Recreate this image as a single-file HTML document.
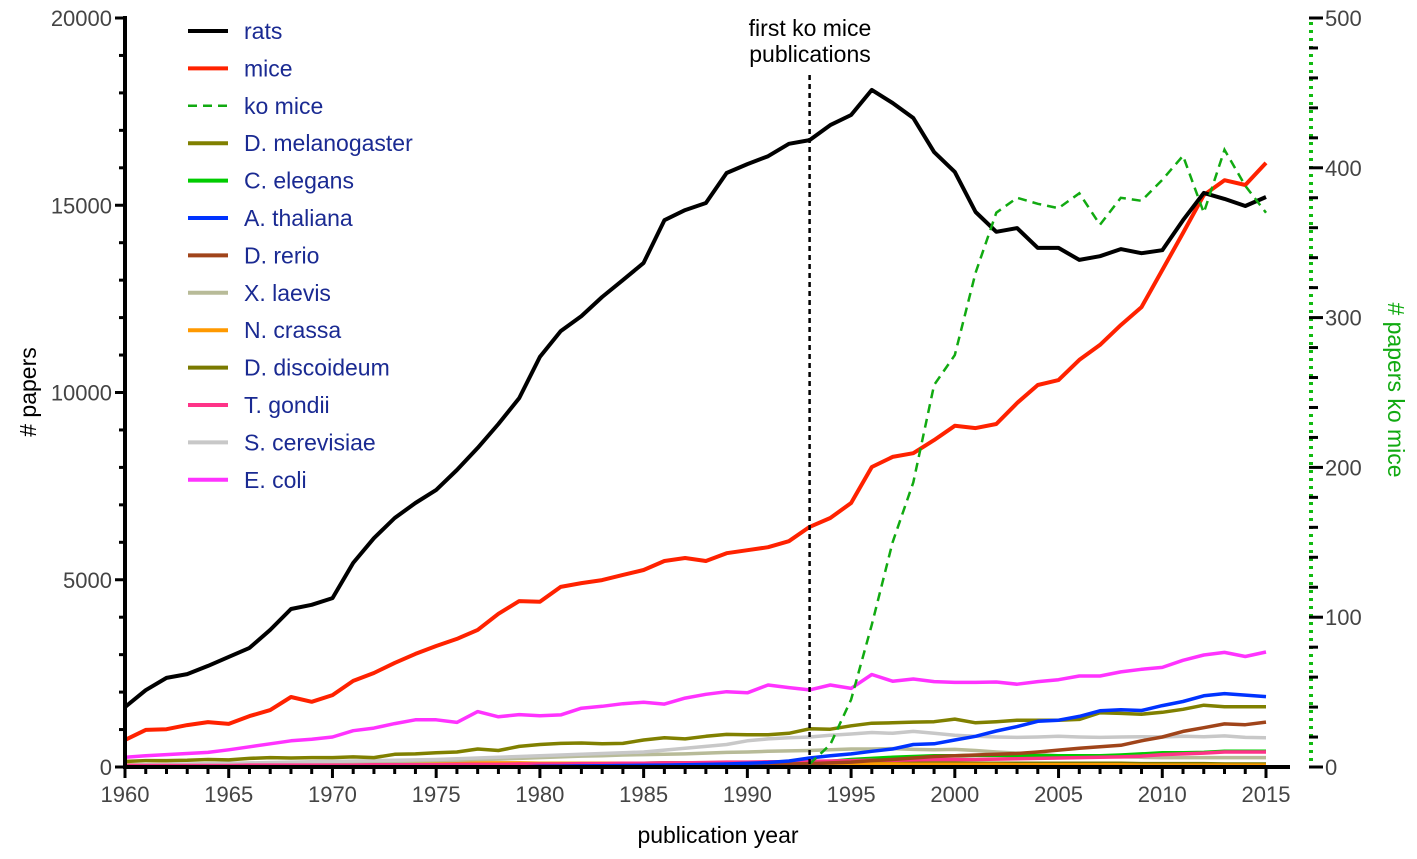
<!DOCTYPE html>
<html><head><meta charset="utf-8"><style>
html,body{margin:0;padding:0;background:#fff;}
svg{display:block;font-family:"Liberation Sans",Arial,sans-serif;}
</style></head><body>
<svg id="chart" width="1417" height="859" viewBox="0 0 1417 859"></svg>
<script>
const years = [];
for (let y = 1960; y <= 2015; y++) years.push(y);
const rats = [1600,2050,2380,2480,2700,2940,3180,3660,4220,4330,4510,5450,6110,6650,7050,7400,7930,8520,9160,9850,10950,11640,12040,12550,13000,13460,14600,14870,15060,15860,16100,16310,16640,16740,17140,17410,18080,17730,17330,16420,15890,14820,14290,14390,13860,13860,13540,13640,13830,13720,13800,14600,15330,15170,14980,15220];
const mice = [720,990,1010,1120,1200,1150,1360,1520,1870,1740,1920,2300,2510,2780,3020,3230,3420,3660,4090,4430,4410,4810,4910,4990,5130,5260,5500,5580,5500,5710,5790,5870,6030,6410,6650,7050,8010,8280,8380,8730,9110,9050,9160,9720,10200,10330,10870,11270,11800,12280,13270,14260,15270,15670,15540,16130];
const koYears = [1993,1994,1995,1996,1997,1998,1999,2000,2001,2002,2003,2004,2005,2006,2007,2008,2009,2010,2011,2012,2013,2014,2015];
const koMice = [2,15,45,95,150,190,255,275,330,370,380,376,373,383,362,380,378,392,408,370,412,388,370];
const ecoli = [260,300,330,360,390,460,540,620,700,740,800,970,1040,1160,1260,1260,1190,1480,1340,1400,1370,1390,1570,1620,1690,1730,1680,1840,1940,2010,1980,2190,2120,2060,2190,2100,2470,2290,2350,2280,2260,2260,2270,2210,2280,2330,2430,2430,2540,2610,2660,2850,2990,3060,2950,3070];
const dmel = [150,170,170,180,200,190,230,250,240,250,250,270,250,340,350,380,400,480,440,550,600,630,640,620,630,720,780,750,820,870,860,860,900,1020,1010,1100,1170,1180,1200,1210,1280,1180,1210,1250,1250,1250,1270,1450,1430,1410,1460,1540,1650,1610,1610,1610];
const athal = [0,0,0,0,0,0,0,0,0,0,0,0,0,0,0,0,0,0,0,0,20,25,30,35,40,45,50,60,70,80,100,120,160,240,300,350,420,480,600,620,720,820,960,1080,1220,1250,1350,1500,1530,1510,1640,1750,1900,1960,1920,1880];
const scer = [50,60,70,80,90,100,110,120,130,140,150,160,170,180,190,200,220,240,260,280,300,320,340,360,380,400,450,500,550,600,700,750,780,800,850,880,920,900,950,900,850,820,800,790,800,820,800,790,800,810,800,820,810,830,790,780];
const xlaev = [50,55,60,65,70,75,80,90,100,110,120,130,140,150,160,170,180,200,210,230,250,270,290,300,320,330,340,350,370,390,400,420,430,440,460,480,480,490,470,460,470,440,400,370,340,300,290,280,270,260,250,250,250,250,250,250];
const drer = [0,0,0,0,0,0,0,0,0,0,0,0,0,0,0,0,0,0,0,0,10,10,20,20,20,30,30,40,40,50,60,70,80,90,110,130,170,200,240,280,300,320,340,360,400,450,500,540,580,700,800,950,1050,1150,1130,1200];
const cele = [10,10,10,10,10,20,20,20,20,20,20,20,20,30,30,30,30,30,30,40,40,40,40,40,50,50,50,50,50,50,50,60,80,100,150,200,230,260,280,300,300,310,310,300,300,300,300,300,320,350,380,380,390,420,420,420];
const tgon = [40,40,40,40,40,40,50,50,50,50,50,50,60,60,60,60,70,70,70,80,80,80,90,90,100,100,110,110,120,130,130,140,140,150,160,170,180,180,190,200,200,200,210,220,230,240,250,260,270,290,330,350,370,400,400,400];
const ncra = [60,60,70,70,80,80,90,100,100,110,120,120,120,120,120,120,110,110,110,110,100,100,100,100,100,100,100,100,90,90,90,90,90,80,80,80,80,80,70,70,70,70,70,60,60,60,60,60,60,50,50,50,50,50,50,50];
const ddis = [60,60,60,70,70,70,70,80,80,80,80,80,90,90,90,90,90,90,100,100,100,100,100,100,100,100,110,110,110,110,110,110,110,110,110,110,110,110,110,110,110,100,100,100,100,100,100,100,100,90,90,90,90,80,80,80];
const leftTicks = [0,5000,10000,15000,20000];
const rightTicks = [0,100,200,300,400,500];
const xTicks = [1960,1965,1970,1975,1980,1985,1990,1995,2000,2005,2010,2015];

const NS='http://www.w3.org/2000/svg';
const svg=document.getElementById('chart');
const X0=125, XW=(1266-125)/55, Y0=767, TOP=18;
const xs=y=>X0+(y-1960)*XW;
const yl=v=>Y0-v*(Y0-TOP)/20000;
const yr=v=>Y0-v*(Y0-TOP)/500;
function mk(tag,attrs,parent){const e=document.createElementNS(NS,tag);for(const k in attrs)e.setAttribute(k,attrs[k]);(parent||svg).appendChild(e);return e;}

// series (draw small first so big are on top)
const series=[
 ['ddis',ddis,'#7a7a00'],['ncra',ncra,'#ff9900'],['xlaev',xlaev,'#b8bb98'],['scer',scer,'#c8c8c8'],
 ['cele',cele,'#00cc00'],['tgon',tgon,'#ff3388'],['drer',drer,'#a0441a'],['dmel',dmel,'#808000'],
 ['athal',athal,'#0033ff'],['ecoli',ecoli,'#ff33ff'],['mice',mice,'#ff2200'],['rats',rats,'#000000']
];
const names={ddis:'d-discoideum-line',ncra:'n-crassa-line',xlaev:'x-laevis-line',scer:'s-cerevisiae-line',cele:'c-elegans-line',tgon:'t-gondii-line',drer:'d-rerio-line',dmel:'d-melanogaster-line',athal:'a-thaliana-line',ecoli:'e-coli-line',mice:'mice-line',rats:'rats-line'};
series.forEach(([k,arr,c])=>{
  const pts=arr.map((v,i)=>xs(years[i]).toFixed(1)+','+yl(v).toFixed(1)).join(' ');
  const p=mk('polyline',{points:pts,fill:'none',stroke:c,'stroke-width':(k==='rats'||k==='mice')?4:3.5,'stroke-linejoin':'round'});
  
  
});
// ko mice
const kp=koMice.map((v,i)=>xs(koYears[i]).toFixed(1)+','+yr(v).toFixed(1)).join(' ');
const ko=mk('polyline',{points:kp,fill:'none',stroke:'#11aa11','stroke-width':2.5,'stroke-dasharray':'9,6'});



// annotation line
const vl=mk('line',{x1:xs(1993),x2:xs(1993),y1:75,y2:Y0,stroke:'#000','stroke-width':2.5,'stroke-dasharray':'5,4'});


const at=mk('text',{x:810,y:36,'text-anchor':'middle','font-size':23,fill:'#000'});


at.innerHTML='<tspan x="810" y="36">first ko mice</tspan><tspan x="810" y="62">publications</tspan>';

// left axis
const la=mk('g',{});


mk('line',{x1:X0,x2:X0,y1:TOP-2,y2:Y0+2,stroke:'#000','stroke-width':4},la);
for(let v=0;v<=20000;v+=1000){const major=v%5000===0;mk('line',{x1:X0-(major?10:6),x2:X0,y1:yl(v),y2:yl(v),stroke:'#000','stroke-width':3},la);}
leftTicks.forEach(v=>{const t=mk('text',{x:X0-13,y:yl(v)+8,'text-anchor':'end','font-size':22,fill:'#444'},la);t.textContent=v;});
// bottom axis
const ba=mk('g',{});


mk('line',{x1:X0-2,x2:1290,y1:Y0,y2:Y0,stroke:'#000','stroke-width':4},ba);
years.forEach(y=>{const major=y%5===0;mk('line',{x1:xs(y),x2:xs(y),y1:Y0,y2:Y0+(major?11:7),stroke:'#000','stroke-width':3},ba);});
xTicks.forEach(y=>{const t=mk('text',{x:xs(y),y:802,'text-anchor':'middle','font-size':22,fill:'#444'},ba);t.textContent=y;});
// right axis
const ra=mk('g',{});


mk('line',{x1:1311,x2:1311,y1:TOP+4,y2:Y0,stroke:'#11bb11','stroke-width':4,'stroke-dasharray':'3,5'},ra);
for(let v=0;v<=500;v+=20){const major=v%100===0;mk('line',{x1:1309,x2:1309+(major?14:9),y1:yr(v),y2:yr(v),stroke:'#000','stroke-width':3},ra);}
rightTicks.forEach(v=>{const t=mk('text',{x:1325,y:yr(v)+8,'font-size':22,fill:'#444'},ra);t.textContent=v;});

// titles
let t=mk('text',{x:718,y:843,'text-anchor':'middle','font-size':23,fill:'#000'});


t.textContent='publication year';
t=mk('text',{x:0,y:0,'text-anchor':'middle','font-size':23,fill:'#000',transform:'translate(36,392) rotate(-90)'});


t.textContent='# papers';
t=mk('text',{x:0,y:0,'text-anchor':'middle','font-size':23,fill:'#11aa11',transform:'translate(1388,390) rotate(90)'});


t.textContent='# papers ko mice';

// legend
const legend=[['rats','#000',0],['mice','#ff2200',0],['ko mice','#11aa11',1],['D. melanogaster','#808000',0],['C. elegans','#00cc00',0],['A. thaliana','#0033ff',0],['D. rerio','#a0441a',0],['X. laevis','#b8bb98',0],['N. crassa','#ff9900',0],['D. discoideum','#7a7a00',0],['T. gondii','#ff3388',0],['S. cerevisiae','#c8c8c8',0],['E. coli','#ff33ff',0]];
const lg=mk('g',{});


legend.forEach(([n,c,d],i)=>{
  const y=31+i*37.4;
  const g=mk('g',{},lg);
  
  
  const a={x1:188,x2:228,y1:y,y2:y,stroke:c,'stroke-width':d?2.5:4};
  if(d)a['stroke-dasharray']='9,6';
  mk('line',a,g);
  const tx=mk('text',{x:244,y:y+8,'font-size':23,fill:'#1a2a92'},g);
  tx.textContent=n;
});
</script>
</body></html>
